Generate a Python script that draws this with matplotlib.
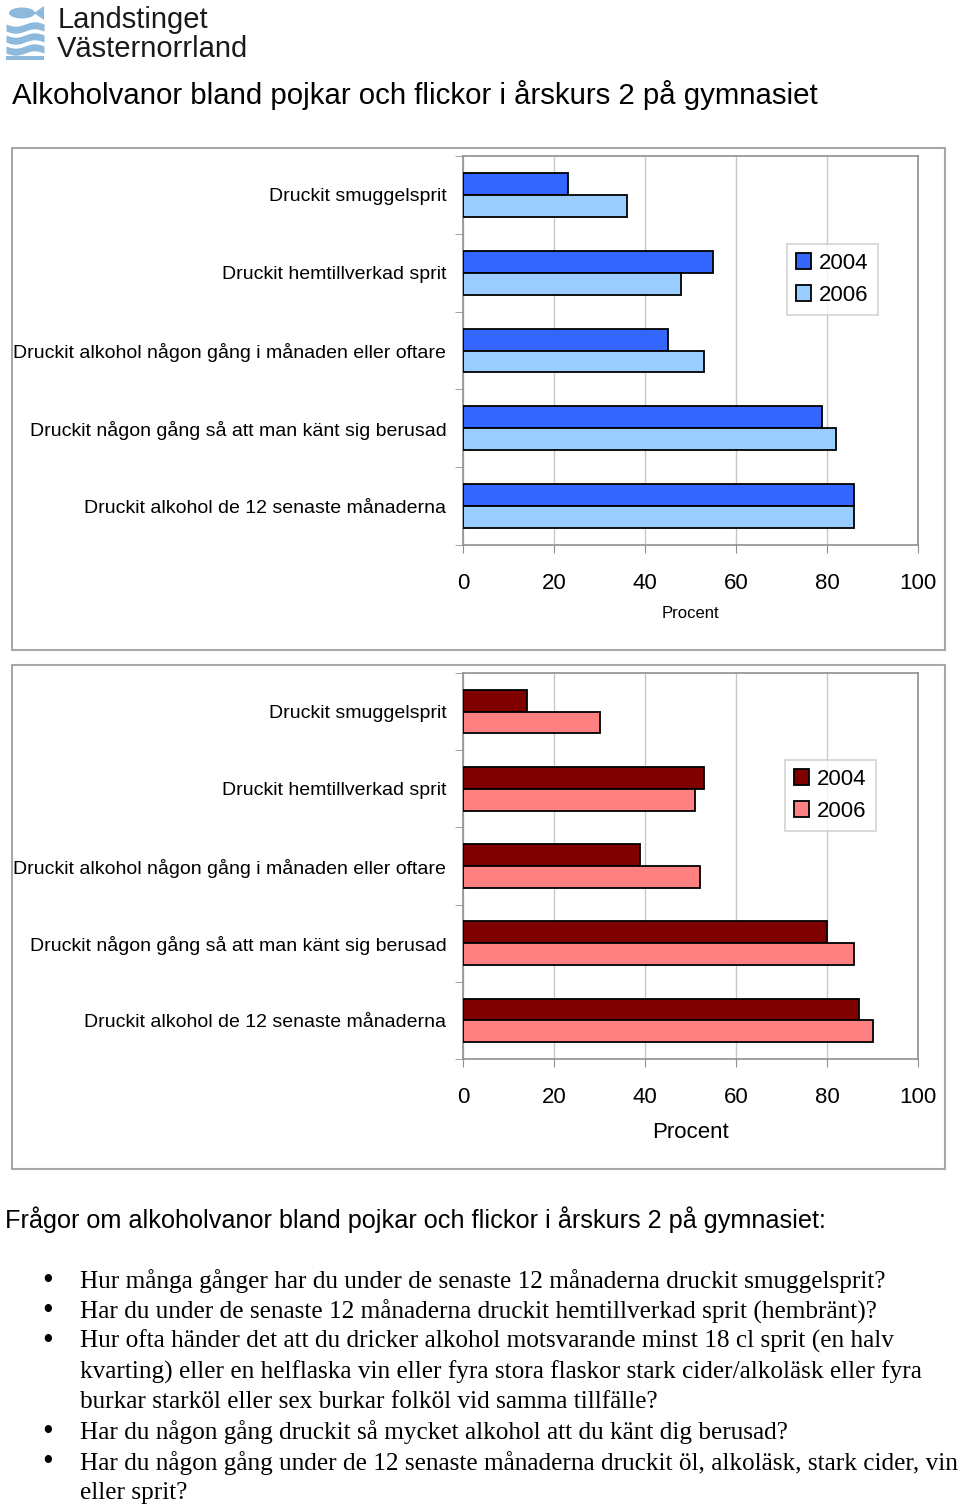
import numpy as np
import matplotlib
matplotlib.use("Agg")
import matplotlib.pyplot as plt
from matplotlib.patches import Rectangle, Patch, Ellipse, Polygon

W, H = 960, 1507

categories = [
    "Druckit smuggelsprit",
    "Druckit hemtillverkad sprit",
    "Druckit alkohol någon gång i månaden eller oftare",
    "Druckit någon gång så att man känt sig berusad",
    "Druckit alkohol de 12 senaste månaderna",
]
years = ["2004", "2006"]
# pojkar (top chart), procent
boys_2004 = [23, 55, 45, 79, 86]
boys_2006 = [36, 48, 53, 82, 86]
# flickor (bottom chart), procent
girls_2004 = [14, 53, 39, 80, 87]
girls_2006 = [30, 51, 52, 86, 90]
x_ticks = [0, 20, 40, 60, 80, 100]

title = "Alkoholvanor bland pojkar och flickor i årskurs 2 på gymnasiet"
questions_title = "Frågor om alkoholvanor bland pojkar och flickor i årskurs 2 på gymnasiet:"
questions = [
    ["Hur många gånger har du under de senaste 12 månaderna druckit smuggelsprit?"],
    ["Har du under de senaste 12 månaderna druckit hemtillverkad sprit (hembränt)?"],
    ["Hur ofta händer det att du dricker alkohol motsvarande minst 18 cl sprit (en halv",
     "kvarting) eller en helflaska vin eller fyra stora flaskor stark cider/alkoläsk eller fyra",
     "burkar starköl eller sex burkar folköl vid samma tillfälle?"],
    ["Har du någon gång druckit så mycket alkohol att du känt dig berusad?"],
    ["Har du någon gång under de 12 senaste månaderna druckit öl, alkoläsk, stark cider, vin",
     "eller sprit?"],
]

plt.rcParams['font.family'] = ['Liberation Sans', 'DejaVu Sans']

fig = plt.figure(figsize=(W / 100, H / 100), dpi=100)
fig.patch.set_facecolor("white")


def px_rect(x0, y0, x1, y1):
    # pixel box (top-left origin) -> figure fraction
    return [x0 / W, 1 - y1 / H, (x1 - x0) / W, (y1 - y0) / H]


# ---- logo ----
lax = fig.add_axes(px_rect(0, 0, 260, 66))
lax.set_xlim(0, 260)
lax.set_ylim(66, 0)
lax.axis("off")
logo_blue = "#8db9dc"
xs = np.linspace(6, 44, 60)
for y0 in [24, 35, 46]:
    top = y0 + 2.2 * np.sin((xs - 6) / 38 * 2 * np.pi)
    lax.fill_between(xs, top, top + 7, color=logo_blue, lw=0)
lax.add_patch(Rectangle((6, 56), 38, 4, color=logo_blue, lw=0))
lax.add_patch(Ellipse((22, 13), 26, 11, color=logo_blue, lw=0))
lax.add_patch(Polygon([[34, 13], [44, 6], [44, 20]], closed=True, color=logo_blue, lw=0))
lax.text(58, 28, "Landstinget", fontsize=21, color="#1a1a1a", va="baseline")
lax.text(57, 57, "Västernorrland", fontsize=21, color="#1a1a1a", va="baseline")

fig.text(12 / W, 1 - 95 / H, title, fontsize=21.2, va="center", ha="left")


def draw_panel(box, ax_box, v04, v06, c04, c06, leg_xy, xlabel_size, xlabel_y):
    bx0, by0, bx1, by1 = box
    fig.add_artist(Rectangle((bx0 / W, 1 - by1 / H), (bx1 - bx0) / W, (by1 - by0) / H,
                             transform=fig.transFigure, fill=False,
                             edgecolor="#a8a8a8", lw=1.5))
    ax = fig.add_axes(px_rect(*ax_box))
    y = np.arange(len(categories))
    bh = 0.282
    ax.barh(y - bh / 2, v04, height=bh, color=c04, edgecolor="black", lw=1.3, zorder=3)
    ax.barh(y + bh / 2, v06, height=bh, color=c06, edgecolor="black", lw=1.3, zorder=3)
    ax.set_xlim(0, 100)
    ax.set_ylim(len(categories) - 0.5, -0.5)
    ax.set_xticks(x_ticks)
    ax.set_xticklabels([str(t) for t in x_ticks], fontsize=16)
    ax.tick_params(axis="x", length=6, color="#909090", pad=14)
    ax.set_yticks(y)
    ax.set_yticklabels(categories, fontsize=14)
    ax.tick_params(axis="y", which="major", length=0, pad=12)
    ax.set_yticks(np.arange(-0.5, len(categories), 1), minor=True)
    ax.tick_params(axis="y", which="minor", length=6, color="#909090")
    ax.grid(axis="x", color="#c8c8c8", lw=1, zorder=0)
    for s in ax.spines.values():
        s.set_color("#909090")
        s.set_linewidth(1.2)
    ax.set_xlabel("Procent", fontsize=xlabel_size)
    ax.xaxis.set_label_coords(0.5, -(xlabel_y - ax_box[3]) / (ax_box[3] - ax_box[1]))
    ax.xaxis.label.set_va("center")
    handles = [Patch(facecolor=c04, edgecolor="black", lw=1.3),
               Patch(facecolor=c06, edgecolor="black", lw=1.3)]
    leg = ax.legend(handles, years, loc="upper left",
                    bbox_to_anchor=(leg_xy[0] / W, 1 - leg_xy[1] / H),
                    bbox_transform=fig.transFigure, fontsize=16, frameon=True,
                    fancybox=False, handlelength=0.7, handleheight=0.75,
                    handletextpad=0.35, borderpad=0.4, labelspacing=0.5,
                    borderaxespad=0)
    leg.get_frame().set_edgecolor("#c8c8c8")
    leg.get_frame().set_linewidth(1.2)
    return ax


draw_panel((12, 148, 945, 650), (463, 156, 918, 545),
           boys_2004, boys_2006, "#3366ff", "#99ccff", (787, 244), 12, 614)
draw_panel((12, 665, 945, 1169), (463, 673, 918, 1059),
           girls_2004, girls_2006, "#800000", "#ff8080", (785, 760), 16, 1133)

fig.text(5 / W, 1 - 1220 / H, questions_title, fontsize=18.2, va="center", ha="left")

line_y = 1281
for q in questions:
    fig.text(48 / W, 1 - line_y / H, "•", fontsize=22, va="center", ha="center",
             family="Liberation Serif")
    for ln in q:
        fig.text(80 / W, 1 - line_y / H, ln, fontsize=18.2, va="center", ha="left",
                 family="Liberation Serif")
        line_y += 30.3

fig.savefig("out.png", dpi=100)
